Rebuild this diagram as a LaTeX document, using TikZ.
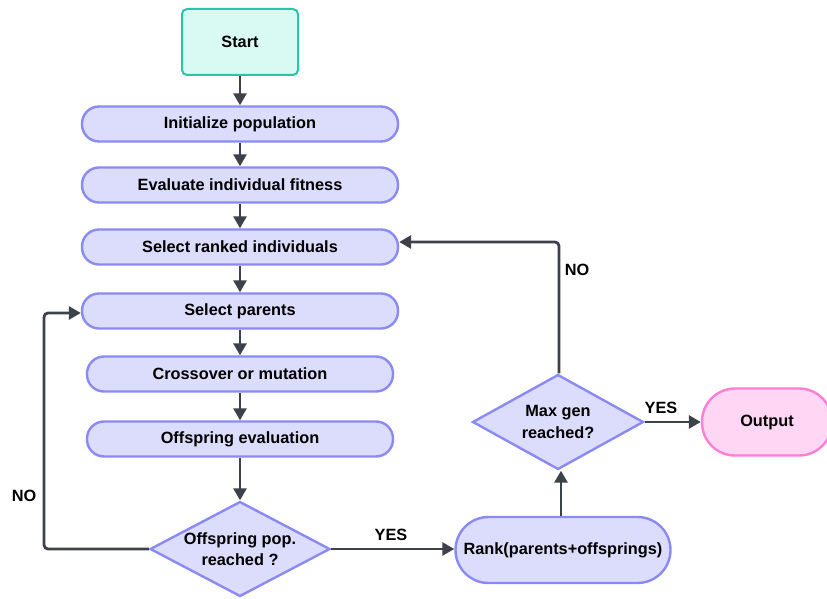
\documentclass[tikz,border=0pt]{standalone}
\usepackage{fontspec}
\setmainfont{Liberation Sans}
\usetikzlibrary{arrows.meta,shapes.geometric}
\definecolor{boxfill}{HTML}{DCDCFC}
\definecolor{boxline}{HTML}{8A8AF2}
\definecolor{startfill}{HTML}{D8FAF2}
\definecolor{startline}{HTML}{2CC4A6}
\definecolor{outfill}{HTML}{FFD6F3}
\definecolor{outline}{HTML}{FF7FD6}
\definecolor{wire}{HTML}{3C414A}
\begin{document}
\begin{tikzpicture}[x=1pt,y=-1pt,
  every node/.style={font=\fontsize{16.3}{21.5}\selectfont\bfseries, text=black},
  pill/.style={draw=boxline, fill=boxfill, line width=2.4pt, rounded corners=17pt,
    minimum height=35pt, inner sep=0pt},
  decision/.style={draw=boxline, fill=boxfill, line width=2.4pt, diamond,
    inner sep=0pt},
  flow/.style={draw=wire, line width=2.8pt, -{Triangle[length=12pt,width=13pt]}},
  lbl/.style={font=\fontsize{16.3}{19}\selectfont\bfseries}]
\useasboundingbox (0,0) rectangle (827,599);

\node[draw=startline, fill=startfill, line width=2pt, rounded corners=5pt,
  minimum width=116pt, minimum height=66pt] (start) at (240,42) {Start};
\node[pill, minimum width=316pt] (init) at (240,124) {Initialize population};
\node[pill, minimum width=316pt] (eval) at (240,185) {Evaluate individual fitness};
\node[pill, minimum width=316pt] (rank) at (240,247) {Select ranked individuals};
\node[pill, minimum width=316pt] (par) at (240,311) {Select parents};
\node[pill, minimum width=306pt] (cross) at (240,374) {Crossover or mutation};
\node[pill, minimum width=306pt] (offev) at (240,439) {Offspring evaluation};

% decision shapes are drawn empty, with their text set on top
\node[decision, minimum width=180pt, minimum height=95pt] (offpop) at (240,549) {};
\node[align=center] (offpoptxt) at (offpop.center) {Offspring pop.\\reached ?};
\node[draw=boxline, fill=boxfill, line width=2.4pt, rounded corners=33pt,
  minimum width=215pt, minimum height=66pt, inner sep=0pt] (rk) at (563,550)
  {Rank(parents+offsprings)};
\node[decision, minimum width=171pt, minimum height=95pt] (maxg) at (558,422) {};
\node[align=center] (maxgtxt) at (maxg.center) {Max gen\\reached?};
\node[draw=outline, fill=outfill, line width=2.4pt, rounded corners=33pt,
  minimum width=130pt, minimum height=67pt, inner sep=0pt] (out) at (767,422) {Output};

\draw[flow] (start) -- (init);
\draw[flow] (init) -- (eval);
\draw[flow] (eval) -- (rank);
\draw[flow] (rank) -- (par);
\draw[flow] (par) -- (cross);
\draw[flow] (cross) -- (offev);
\draw[flow] (offev) -- (offpop);
\draw[flow, rounded corners=4pt] (offpop.west) -- (44,549) -- (44,313) -- (par.west |- 0,313);
\draw[flow] (offpop.east) -- (rk.west |- offpop.east);
\draw[flow] (rk.north -| 561,0) -- (maxg.south -| 561,0);
\draw[flow, rounded corners=4pt] (maxg.north -| 559,0) -- (559,242) -- (rank.east |- 0,242);
\draw[flow] (maxg.east) -- (out.west);

\node[lbl] (no1) at (24,496) {NO};
\node[lbl] (yes1) at (391,535) {YES};
\node[lbl] (no2) at (577,270) {NO};
\node[lbl] (yes2) at (661,408) {YES};
\end{tikzpicture}
\end{document}
